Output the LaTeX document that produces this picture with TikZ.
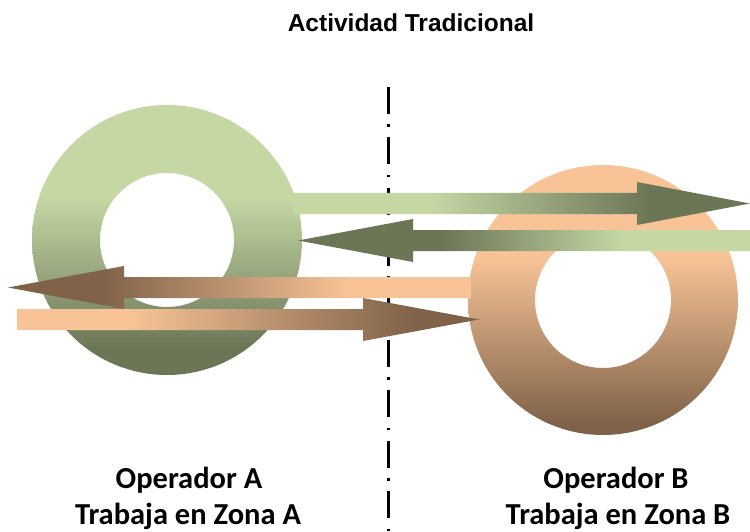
\documentclass[tikz,border=0pt]{standalone}
\usepackage{fontspec}
\newfontfamily\titlefont{Liberation Sans}
\newfontfamily\labelfont{Carlito}
\definecolor{grnlight}{RGB}{197,216,164}
\definecolor{grndark}{RGB}{107,118,87}
\definecolor{peach}{RGB}{248,196,151}
\definecolor{brndark}{RGB}{127,98,72}
\pgfdeclareverticalshading{greenring}{100bp}{color(0bp)=(grndark); color(30bp)=(grndark); color(58bp)=(grnlight); color(100bp)=(grnlight)}
\pgfdeclareverticalshading{orangering}{100bp}{color(0bp)=(brndark); color(27bp)=(brndark); color(58bp)=(peach); color(100bp)=(peach)}
\pgfdeclarehorizontalshading{grnright}{100bp}{color(0bp)=(grnlight); color(40bp)=(grnlight); color(64bp)=(grndark); color(100bp)=(grndark)}
\pgfdeclarehorizontalshading{grnleft}{100bp}{color(0bp)=(grndark); color(41bp)=(grndark); color(61bp)=(grnlight); color(100bp)=(grnlight)}
\pgfdeclarehorizontalshading{brnleft}{100bp}{color(0bp)=(brndark); color(35bp)=(brndark); color(62bp)=(peach); color(100bp)=(peach)}
\pgfdeclarehorizontalshading{orgright}{100bp}{color(0bp)=(peach); color(37bp)=(peach); color(68bp)=(brndark); color(100bp)=(brndark)}
\tikzset{
	divider/.style={line width=3pt, dash pattern=on 27pt off 10.5pt on 2.5pt off 10.5pt},
	titletext/.style={font=\titlefont\bfseries\fontsize{24.5}{29}\selectfont, anchor=base, inner sep=0pt},
	optext/.style={font=\labelfont\bfseries\fontsize{30.5}{36}\selectfont, anchor=base, inner sep=0pt}
}

\begin{document}
\begin{tikzpicture}[x=1pt,y=-1pt]
	\useasboundingbox (0,0) rectangle (750,532);
	\coordinate (divtop) at (388,87);
	\coordinate (divbot) at (388,532);
	\draw[divider] (divtop) -- (divbot);
	\shade[shading=greenring, even odd rule] (167,240) circle (135pt) (167,240) circle (67pt);
	\shade[shading=orangering, even odd rule] (603,300) circle (135pt) (603,300) circle (68pt);
	\shade[shading=grnright] (293,193) -- (637,193) -- (637,182) -- (750,203.5) -- (637,225) -- (637,214) -- (293,214) -- cycle;
	\shade[shading=grnleft] (750,230) -- (413,230) -- (413,219) -- (298,240.5) -- (413,262) -- (413,251) -- (750,251) -- cycle;
	\shade[shading=brnleft] (471,277) -- (124,277) -- (124,266) -- (8,287.5) -- (124,309) -- (124,298) -- (471,298) -- cycle;
	\shade[shading=orgright] (17,309) -- (363,309) -- (363,298) -- (479,319.5) -- (363,341) -- (363,330) -- (17,330) -- cycle;
	\node[titletext] (title) at (411,32) {Actividad Tradicional};
	\node[optext] (opA) at (189,488) {Operador A};
	\node[optext] (zoneA) at (188,524) {Trabaja en Zona A};
	\node[optext] (opB) at (616,488) {Operador B};
	\node[optext] (zoneB) at (618,524) {Trabaja en Zona B};
\end{tikzpicture}
\end{document}
